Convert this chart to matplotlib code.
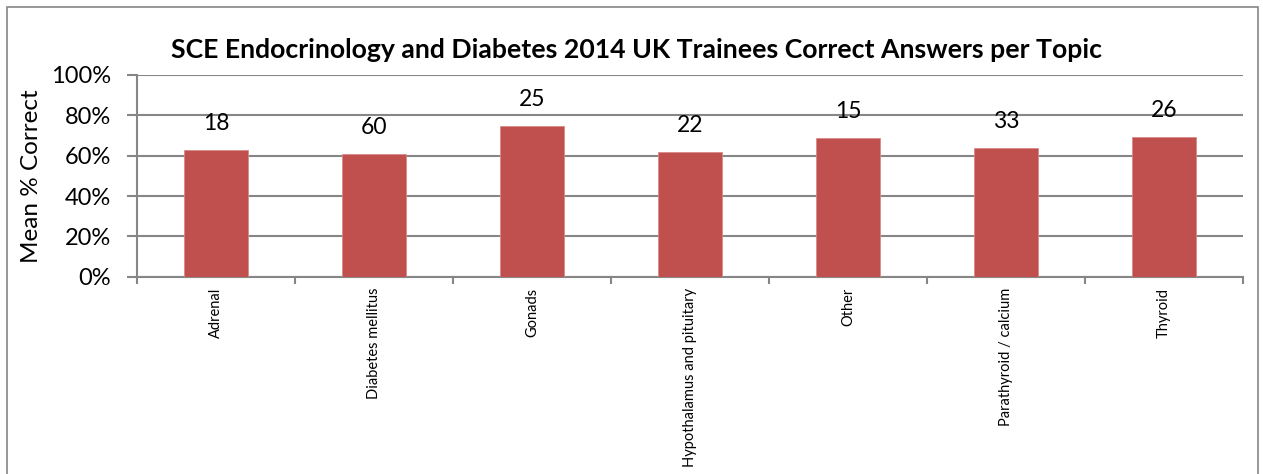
import numpy as np
import matplotlib
matplotlib.use('Agg')
import matplotlib.pyplot as plt
from matplotlib.patches import Rectangle
from matplotlib.ticker import PercentFormatter

topics = ['Adrenal', 'Diabetes mellitus', 'Gonads', 'Hypothalamus and pituitary',
          'Other', 'Parathyroid / calcium', 'Thyroid']
mean_correct = [63, 61, 74.7, 61.8, 68.6, 64, 69.3]
n_questions = [18, 60, 25, 22, 15, 33, 26]

plt.rcParams['font.family'] = ['Lato', 'DejaVu Sans']

fig = plt.figure(figsize=(12.63, 4.74), dpi=100)
ax = fig.add_axes([0.1085, 0.4162, 0.8757, 0.4256])

x = np.arange(len(topics))
ax.bar(x, mean_correct, width=0.4, color='#C0504D', edgecolor='#D98A88', linewidth=0.6, zorder=3)

for xi, v, n in zip(x, mean_correct, n_questions):
    ax.annotate(str(n), (xi, v), xytext=(0, 19), textcoords='offset points',
                ha='center', va='center', fontsize=16.5, zorder=4)

ax.set_xlim(-0.5, len(topics) - 0.5)
ax.set_ylim(0, 100)
ax.set_yticks(range(0, 101, 20))
ax.yaxis.set_major_formatter(PercentFormatter(decimals=0))
ax.grid(axis='y', color='#868686', linewidth=1.5, zorder=0)
ax.set_axisbelow(True)

ax.set_xticks(x)
ax.set_xticklabels(topics, rotation=90, fontsize=10.5, va='top')
ax.set_xticks(np.arange(-0.5, len(topics)), minor=True)
ax.tick_params(axis='x', which='major', length=0, pad=8)
ax.tick_params(axis='x', which='minor', length=5, width=1.5, color='#868686')
ax.tick_params(axis='y', length=7, width=1.5, color='#868686', labelsize=17, pad=12)

for s in ['top', 'right']:
    ax.spines[s].set_visible(False)
for s in ['left', 'bottom']:
    ax.spines[s].set_color('#868686')
    ax.spines[s].set_linewidth(1.5)

ax.set_ylabel('Mean % Correct', fontsize=17.5, labelpad=6)
fig.text(0.504, 0.895, 'SCE Endocrinology and Diabetes 2014 UK Trainees Correct Answers per Topic',
         ha='center', va='center', fontsize=19.2, fontweight='bold')

fig.patches.append(Rectangle((7 / 1263, -0.1), 1251 / 1263, 1.1 - 7 / 474, transform=fig.transFigure,
                             fill=False, edgecolor='#868686', linewidth=1.2))

fig.savefig('out.png', dpi=100)
